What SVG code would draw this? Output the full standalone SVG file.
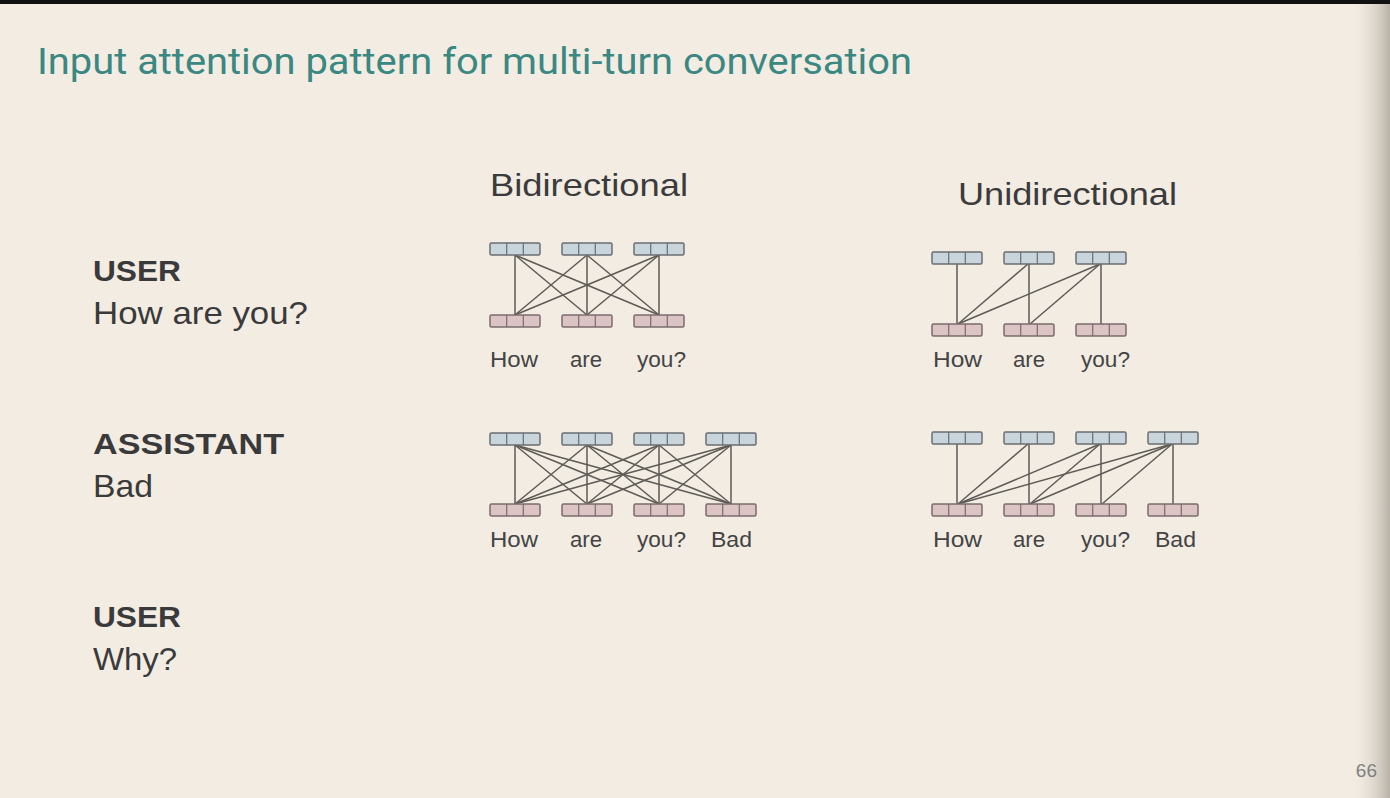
<svg xmlns="http://www.w3.org/2000/svg" width="1390" height="798" viewBox="0 0 1390 798">
<defs>
<linearGradient id="edge" x1="0" y1="0" x2="1" y2="0">
<stop offset="0" stop-color="#f2ece3" stop-opacity="0"/>
<stop offset="1" stop-color="#b8b1a6"/>
</linearGradient>
<g id="tb"><rect x="0" y="0" width="50" height="12" rx="1.5" fill="#c8d5dd" stroke="#6a6e70" stroke-width="1.5"/><line x1="16.7" y1="0" x2="16.7" y2="12" stroke="#6a6e70" stroke-width="1.2"/><line x1="33.3" y1="0" x2="33.3" y2="12" stroke="#6a6e70" stroke-width="1.2"/></g>
<g id="bb"><rect x="0" y="0" width="50" height="12" rx="1.5" fill="#dcc3c4" stroke="#7a6c6c" stroke-width="1.5"/><line x1="16.7" y1="0" x2="16.7" y2="12" stroke="#7a6c6c" stroke-width="1.2"/><line x1="33.3" y1="0" x2="33.3" y2="12" stroke="#7a6c6c" stroke-width="1.2"/></g>
</defs>
<style>
.t{font-family:"Liberation Sans",Arial,sans-serif}
.title{font-family:Roboto,"Liberation Sans",sans-serif;font-size:36px;fill:#3b8782}
.head{font-size:32px;fill:#3b3b3b}
.lb{font-size:30px;font-weight:bold;fill:#3a3a3a}
.lr{font-size:32px;fill:#3a3a3a}
.tok{font-size:22px;fill:#444}
.c line{stroke:#5e5a56;stroke-width:1.5}
</style>
<rect width="1390" height="798" fill="#f2ece3"/>
<rect x="1350" y="0" width="40" height="798" fill="url(#edge)"/>
<rect width="1390" height="4" fill="#111"/>
<text class="title" x="37" y="74" textLength="875" lengthAdjust="spacingAndGlyphs">Input attention pattern for multi-turn conversation</text>
<text class="t head" x="490" y="196" textLength="198" lengthAdjust="spacingAndGlyphs">Bidirectional</text>
<text class="t head" x="958" y="205" textLength="219" lengthAdjust="spacingAndGlyphs">Unidirectional</text>
<g id="left">
<text class="t lb" x="93" y="281" textLength="88" lengthAdjust="spacingAndGlyphs">USER</text>
<text class="t lr" x="93" y="324" textLength="215" lengthAdjust="spacingAndGlyphs">How are you?</text>
<text class="t lb" x="93" y="454" textLength="191" lengthAdjust="spacingAndGlyphs">ASSISTANT</text>
<text class="t lr" x="93" y="497" textLength="60" lengthAdjust="spacingAndGlyphs">Bad</text>
<text class="t lb" x="93" y="627" textLength="88" lengthAdjust="spacingAndGlyphs">USER</text>
<text class="t lr" x="93" y="670" textLength="84" lengthAdjust="spacingAndGlyphs">Why?</text>
</g>
<text class="t" x="1377" y="777" text-anchor="end" font-size="19" fill="#808080">66</text>

<g id="connectors" class="c">
<line x1="515" y1="255" x2="515" y2="315"/><line x1="515" y1="255" x2="587" y2="315"/><line x1="515" y1="255" x2="659" y2="315"/>
<line x1="587" y1="255" x2="515" y2="315"/><line x1="587" y1="255" x2="587" y2="315"/><line x1="587" y1="255" x2="659" y2="315"/>
<line x1="659" y1="255" x2="515" y2="315"/><line x1="659" y1="255" x2="587" y2="315"/><line x1="659" y1="255" x2="659" y2="315"/>
<line x1="515" y1="445" x2="515" y2="504"/><line x1="515" y1="445" x2="587" y2="504"/><line x1="515" y1="445" x2="659" y2="504"/><line x1="515" y1="445" x2="731" y2="504"/>
<line x1="587" y1="445" x2="515" y2="504"/><line x1="587" y1="445" x2="587" y2="504"/><line x1="587" y1="445" x2="659" y2="504"/><line x1="587" y1="445" x2="731" y2="504"/>
<line x1="659" y1="445" x2="515" y2="504"/><line x1="659" y1="445" x2="587" y2="504"/><line x1="659" y1="445" x2="659" y2="504"/><line x1="659" y1="445" x2="731" y2="504"/>
<line x1="731" y1="445" x2="515" y2="504"/><line x1="731" y1="445" x2="587" y2="504"/><line x1="731" y1="445" x2="659" y2="504"/><line x1="731" y1="445" x2="731" y2="504"/>
<line x1="957" y1="264" x2="957" y2="324"/>
<line x1="1028" y1="264" x2="958" y2="324"/><line x1="1029" y1="264" x2="1029" y2="324"/>
<line x1="1100" y1="264" x2="958" y2="324"/><line x1="1100" y1="264" x2="1030" y2="324"/><line x1="1101" y1="264" x2="1101" y2="324"/>
<line x1="957" y1="444" x2="957" y2="504"/>
<line x1="1028" y1="444" x2="958" y2="504"/><line x1="1029" y1="444" x2="1029" y2="504"/>
<line x1="1100" y1="444" x2="958" y2="504"/><line x1="1100" y1="444" x2="1030" y2="504"/><line x1="1101" y1="444" x2="1101" y2="504"/>
<line x1="1172" y1="444" x2="958" y2="504"/><line x1="1172" y1="444" x2="1030" y2="504"/><line x1="1172" y1="444" x2="1102" y2="504"/><line x1="1173" y1="444" x2="1173" y2="504"/>
</g>

<g id="bidi-row1">
<use href="#tb" x="490" y="243"/><use href="#tb" x="562" y="243"/><use href="#tb" x="634" y="243"/>
<use href="#bb" x="490" y="315"/><use href="#bb" x="562" y="315"/><use href="#bb" x="634" y="315"/>
<text class="t tok" x="490" y="367" textLength="48" lengthAdjust="spacingAndGlyphs">How</text>
<text class="t tok" x="570" y="367" textLength="32" lengthAdjust="spacingAndGlyphs">are</text>
<text class="t tok" x="637" y="367" textLength="49" lengthAdjust="spacingAndGlyphs">you?</text>
</g>
<g id="bidi-row2">
<use href="#tb" x="490" y="433"/><use href="#tb" x="562" y="433"/><use href="#tb" x="634" y="433"/><use href="#tb" x="706" y="433"/>
<use href="#bb" x="490" y="504"/><use href="#bb" x="562" y="504"/><use href="#bb" x="634" y="504"/><use href="#bb" x="706" y="504"/>
<text class="t tok" x="490" y="547" textLength="48" lengthAdjust="spacingAndGlyphs">How</text>
<text class="t tok" x="570" y="547" textLength="32" lengthAdjust="spacingAndGlyphs">are</text>
<text class="t tok" x="637" y="547" textLength="49" lengthAdjust="spacingAndGlyphs">you?</text>
<text class="t tok" x="711" y="547" textLength="41" lengthAdjust="spacingAndGlyphs">Bad</text>
</g>
<g id="uni-row1">
<use href="#tb" x="932" y="252"/><use href="#tb" x="1004" y="252"/><use href="#tb" x="1076" y="252"/>
<use href="#bb" x="932" y="324"/><use href="#bb" x="1004" y="324"/><use href="#bb" x="1076" y="324"/>
<text class="t tok" x="933" y="367" textLength="49" lengthAdjust="spacingAndGlyphs">How</text>
<text class="t tok" x="1013" y="367" textLength="32" lengthAdjust="spacingAndGlyphs">are</text>
<text class="t tok" x="1081" y="367" textLength="49" lengthAdjust="spacingAndGlyphs">you?</text>
</g>
<g id="uni-row2">
<use href="#tb" x="932" y="432"/><use href="#tb" x="1004" y="432"/><use href="#tb" x="1076" y="432"/><use href="#tb" x="1148" y="432"/>
<use href="#bb" x="932" y="504"/><use href="#bb" x="1004" y="504"/><use href="#bb" x="1076" y="504"/><use href="#bb" x="1148" y="504"/>
<text class="t tok" x="933" y="547" textLength="49" lengthAdjust="spacingAndGlyphs">How</text>
<text class="t tok" x="1013" y="547" textLength="32" lengthAdjust="spacingAndGlyphs">are</text>
<text class="t tok" x="1081" y="547" textLength="49" lengthAdjust="spacingAndGlyphs">you?</text>
<text class="t tok" x="1155" y="547" textLength="41" lengthAdjust="spacingAndGlyphs">Bad</text>
</g>
</svg>
